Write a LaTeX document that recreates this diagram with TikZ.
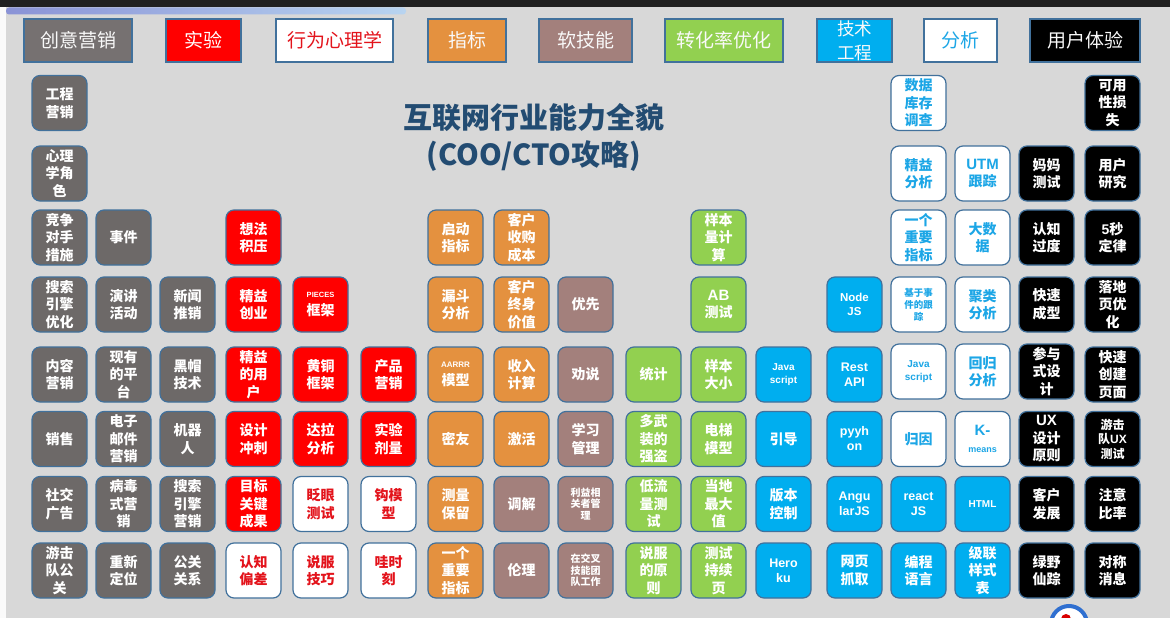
\documentclass[tikz,border=0pt]{standalone}
\usepackage{fontspec}
\setmainfont{Noto Sans CJK SC}
\newfontfamily\lat{Liberation Sans}
\definecolor{bgc}{HTML}{D8D8D8}
\definecolor{topbar}{HTML}{202020}
\definecolor{stripL}{HTML}{8A93D6}
\definecolor{stripR}{HTML}{B8D4F0}
\definecolor{bord}{HTML}{41719C}
\definecolor{cgray}{HTML}{6D6968}
\definecolor{lgray}{HTML}{767171}
\definecolor{cred}{HTML}{FF0000}
\definecolor{tred}{HTML}{E3131B}
\definecolor{corange}{HTML}{E4913F}
\definecolor{cbrown}{HTML}{A3807C}
\definecolor{cgreen}{HTML}{92D050}
\definecolor{cblue}{HTML}{00AEEF}
\definecolor{tblue}{HTML}{1CA6E6}
\definecolor{titleblue}{HTML}{234C72}
\definecolor{ringblue}{HTML}{2F6FD0}
\def\xA{59.5}\def\xB{123.5}\def\xC{187.5}\def\xD{253.5}\def\xE{320.5}\def\xF{388.5}
\def\xG{455.5}\def\xH{521.5}\def\xI{585.5}\def\xJ{653.5}\def\xK{718.5}\def\xL{783.5}
\def\xM{854.5}\def\xN{918.5}\def\xO{982.5}\def\xP{1046.5}\def\xQ{1112.5}
\def\yA{103}\def\yB{173.5}\def\yC{237.5}\def\yD{304.5}\def\yE{374.5}\def\yF{439}\def\yG{504}\def\yH{570.5}
\tikzset{
  cellbox/.style={rectangle, rounded corners=8pt, draw=bord, line width=1.2pt,
    minimum width=55pt, minimum height=55pt, inner sep=0pt, align=center,
    text=white, font=\bfseries\fontsize{14}{17.5}\selectfont},
  gbox/.style={cellbox, fill=cgray},
  rbox/.style={cellbox, fill=cred},
  wrbox/.style={cellbox, fill=white, text=tred},
  obox/.style={cellbox, fill=corange},
  nbox/.style={cellbox, fill=cbrown},
  ggbox/.style={cellbox, fill=cgreen},
  bbox/.style={cellbox, fill=cblue},
  wbbox/.style={cellbox, fill=white, text=tblue},
  kbox/.style={cellbox, fill=black},
  latbig/.style={font=\lat\bfseries\fontsize{12.5}{15}\selectfont},
  latmid/.style={font=\lat\bfseries\fontsize{11.5}{14}\selectfont},
  latsmall/.style={font=\lat\bfseries\fontsize{10}{13}\selectfont},
  cjksmall/.style={font=\bfseries\fontsize{10}{11.5}\selectfont},
  legbox/.style={rectangle, draw=bord, line width=1.2pt, inner sep=0pt,
    minimum height=43pt, align=center, text=white!95!gray,
    font=\fontsize{19}{20}\selectfont},
}
\begin{document}
\begin{tikzpicture}[x=1pt,y=-1pt]
\useasboundingbox (0,0) rectangle (1170,618);
\fill[bgc] (0,0) rectangle (1170,618);
\fill[topbar] (0,0) rectangle (1170,7.5);
\shade[left color=stripL, right color=stripR, rounded corners=3pt] (6,7.5) rectangle (406,14.5);
\fill[white!96!gray] (0,7.5) rectangle (5.5,618);
% legend
\node[legbox, fill=lgray, minimum width=108pt] (l1) at (78,40.5) {创意营销};
\node[legbox, fill=cred, text=white, minimum width=75pt] (l2) at (203.5,40.5) {实验};
\node[legbox, fill=white, text=tred, minimum width=117pt] (l3) at (334.5,40.5) {行为心理学};
\node[legbox, fill=corange, minimum width=78pt] (l4) at (467,40.5) {指标};
\node[legbox, fill=cbrown, minimum width=93pt] (l5) at (585.5,40.5) {软技能};
\node[legbox, fill=cgreen, minimum width=118pt] (l6) at (724,40.5) {转化率优化};
\node[legbox, fill=cblue, minimum width=75pt, font=\fontsize{17.5}{24}\selectfont] (l7) at (854.5,40.5) {技术\\工程};
\node[legbox, fill=white, text=tblue, minimum width=73pt] (l8) at (960.5,40.5) {分析};
\node[legbox, fill=black, minimum width=110pt] (l9) at (1085,40.5) {用户体验};
% title
\node[align=center, text=titleblue, font=\bfseries\fontsize{29}{37}\selectfont] (title) at (534,137) {互联网行业能力全貌\\(COO/CTO攻略)};
% row 1
\node[gbox] (n1a) at (\xA,\yA) {工程\\营销};
\node[wbbox] (n1n) at (\xN,\yA) {数据\\库存\\调查};
\node[kbox] (n1q) at (\xQ,\yA) {可用\\性损\\失};
% row 2
\node[gbox] (n2a) at (\xA,\yB) {心理\\学角\\色};
\node[wbbox] (n2n) at (\xN,\yB) {精益\\分析};
\node[wbbox] (n2o) at (\xO,\yB) {{\lat\bfseries\fontsize{15}{17.5}\selectfont UTM}\\跟踪};
\node[kbox] (n2p) at (\xP,\yB) {妈妈\\测试};
\node[kbox] (n2q) at (\xQ,\yB) {用户\\研究};
% row 3
\node[gbox] (n3a) at (\xA,\yC) {竞争\\对手\\措施};
\node[gbox] (n3b) at (\xB,\yC) {事件};
\node[rbox] (n3d) at (\xD,\yC) {想法\\积压};
\node[obox] (n3g) at (\xG,\yC) {启动\\指标};
\node[obox] (n3h) at (\xH,\yC) {客户\\收购\\成本};
\node[ggbox] (n3k) at (\xK,\yC) {样本\\量计\\算};
\node[wbbox] (n3n) at (\xN,\yC) {一个\\重要\\指标};
\node[wbbox] (n3o) at (\xO,\yC) {大数\\据};
\node[kbox] (n3p) at (\xP,\yC) {认知\\过度};
\node[kbox] (n3q) at (\xQ,\yC) {{\lat\bfseries 5}秒\\定律};
% row 4
\node[gbox] (n4a) at (\xA,\yD) {搜索\\引擎\\优化};
\node[gbox] (n4b) at (\xB,\yD) {演讲\\活动};
\node[gbox] (n4c) at (\xC,\yD) {新闻\\推销};
\node[rbox] (n4d) at (\xD,\yD) {精益\\创业};
\node[rbox] (n4e) at (\xE,\yD) {{\lat\bfseries\fontsize{7.5}{9}\selectfont PIECES}\\框架};
\node[obox] (n4g) at (\xG,\yD) {漏斗\\分析};
\node[obox] (n4h) at (\xH,\yD) {客户\\终身\\价值};
\node[nbox] (n4i) at (\xI,\yD) {优先};
\node[ggbox] (n4k) at (\xK,\yD) {{\lat\bfseries\fontsize{15}{17.5}\selectfont AB}\\测试};
\node[bbox, latmid] (n4m) at (\xM,\yD) {Node\\JS};
\node[wbbox, font=\bfseries\fontsize{9.5}{12}\selectfont] (n4n) at (\xN,\yD) {基于事\\件的跟\\踪};
\node[wbbox] (n4o) at (\xO,\yD) {聚类\\分析};
\node[kbox] (n4p) at (\xP,\yD) {快速\\成型};
\node[kbox] (n4q) at (\xQ,\yD) {落地\\页优\\化};
% row 5
\node[gbox] (n5a) at (\xA,\yE) {内容\\营销};
\node[gbox] (n5b) at (\xB,\yE) {现有\\的平\\台};
\node[gbox] (n5c) at (\xC,\yE) {黑帽\\技术};
\node[rbox] (n5d) at (\xD,\yE) {精益\\的用\\户};
\node[rbox] (n5e) at (\xE,\yE) {黄铜\\框架};
\node[rbox] (n5f) at (\xF,\yE) {产品\\营销};
\node[obox] (n5g) at (\xG,\yE) {{\lat\bfseries\fontsize{8}{9}\selectfont AARRR}\\模型};
\node[obox] (n5h) at (\xH,\yE) {收入\\计算};
\node[nbox] (n5i) at (\xI,\yE) {劝说};
\node[ggbox] (n5j) at (\xJ,\yE) {统计};
\node[ggbox] (n5k) at (\xK,\yE) {样本\\大小};
\node[bbox, latsmall] (n5l) at (\xL,\yE) {Java\\script};
\node[bbox, latbig] (n5m) at (\xM,\yE) {Rest\\API};
\node[wbbox, latsmall] (n5n) at (\xN,\yE-3) {Java\\script};
\node[wbbox] (n5o) at (\xO,\yE-3) {回归\\分析};
\node[kbox] (n5p) at (\xP,\yE-3) {参与\\式设\\计};
\node[kbox] (n5q) at (\xQ,\yE) {快速\\创建\\页面};
% row 6
\node[gbox] (n6a) at (\xA,\yF) {销售};
\node[gbox] (n6b) at (\xB,\yF) {电子\\邮件\\营销};
\node[gbox] (n6c) at (\xC,\yF) {机器\\人};
\node[rbox] (n6d) at (\xD,\yF) {设计\\冲刺};
\node[rbox] (n6e) at (\xE,\yF) {达拉\\分析};
\node[rbox] (n6f) at (\xF,\yF) {实验\\剂量};
\node[obox] (n6g) at (\xG,\yF) {密友};
\node[obox] (n6h) at (\xH,\yF) {激活};
\node[nbox] (n6i) at (\xI,\yF) {学习\\管理};
\node[ggbox] (n6j) at (\xJ,\yF) {多武\\装的\\强盗};
\node[ggbox] (n6k) at (\xK,\yF) {电梯\\模型};
\node[bbox] (n6l) at (\xL,\yF) {引导};
\node[bbox, latbig] (n6m) at (\xM,\yF) {pyyh\\on};
\node[wbbox] (n6n) at (\xN,\yF) {归因};
\node[wbbox] (n6o) at (\xO,\yF) {{\lat\bfseries\fontsize{15}{16}\selectfont K-}\\{\lat\bfseries\fontsize{9}{11}\selectfont means}};
\node[kbox] (n6p) at (\xP,\yF) {{\lat\bfseries\fontsize{15}{17.5}\selectfont UX}\\设计\\原则};
\node[kbox, font=\bfseries\fontsize{12}{14.5}\selectfont] (n6q) at (\xQ,\yF) {游击\\队{\lat\bfseries UX}\\测试};
% row 7
\node[gbox] (n7a) at (\xA,\yG) {社交\\广告};
\node[gbox] (n7b) at (\xB,\yG) {病毒\\式营\\销};
\node[gbox] (n7c) at (\xC,\yG) {搜索\\引擎\\营销};
\node[rbox] (n7d) at (\xD,\yG) {目标\\关键\\成果};
\node[wrbox] (n7e) at (\xE,\yG) {眨眼\\测试};
\node[wrbox] (n7f) at (\xF,\yG) {钩模\\型};
\node[obox] (n7g) at (\xG,\yG) {测量\\保留};
\node[nbox] (n7h) at (\xH,\yG) {调解};
\node[nbox, cjksmall] (n7i) at (\xI,\yG) {利益相\\关者管\\理};
\node[ggbox] (n7j) at (\xJ,\yG) {低流\\量测\\试};
\node[ggbox] (n7k) at (\xK,\yG) {当地\\最大\\值};
\node[bbox] (n7l) at (\xL,\yG) {版本\\控制};
\node[bbox, latbig] (n7m) at (\xM,\yG) {Angu\\larJS};
\node[bbox, latbig] (n7n) at (\xN,\yG) {react\\JS};
\node[bbox, latsmall] (n7o) at (\xO,\yG) {HTML};
\node[kbox] (n7p) at (\xP,\yG) {客户\\发展};
\node[kbox] (n7q) at (\xQ,\yG) {注意\\比率};
% row 8
\node[gbox] (n8a) at (\xA,\yH) {游击\\队公\\关};
\node[gbox] (n8b) at (\xB,\yH) {重新\\定位};
\node[gbox] (n8c) at (\xC,\yH) {公关\\关系};
\node[wrbox] (n8d) at (\xD,\yH) {认知\\偏差};
\node[wrbox] (n8e) at (\xE,\yH) {说服\\技巧};
\node[wrbox] (n8f) at (\xF,\yH) {哇时\\刻};
\node[obox] (n8g) at (\xG,\yH) {一个\\重要\\指标};
\node[nbox] (n8h) at (\xH,\yH) {伦理};
\node[nbox, cjksmall] (n8i) at (\xI,\yH) {在交叉\\技能团\\队工作};
\node[ggbox] (n8j) at (\xJ,\yH) {说服\\的原\\则};
\node[ggbox] (n8k) at (\xK,\yH) {测试\\持续\\页};
\node[bbox, latbig] (n8l) at (\xL,\yH) {Hero\\ku};
\node[bbox] (n8m) at (\xM,\yH) {网页\\抓取};
\node[bbox] (n8n) at (\xN,\yH) {编程\\语言};
\node[bbox] (n8o) at (\xO,\yH) {级联\\样式\\表};
\node[kbox] (n8p) at (\xP,\yH) {绿野\\仙踪};
\node[kbox] (n8q) at (\xQ,\yH) {对称\\消息};
% corner badge
\draw[line width=4pt, draw=ringblue, fill=white] (1069,624) circle (18);
\fill[red!85!black] (1066,619) circle (5);
\end{tikzpicture}
\end{document}
